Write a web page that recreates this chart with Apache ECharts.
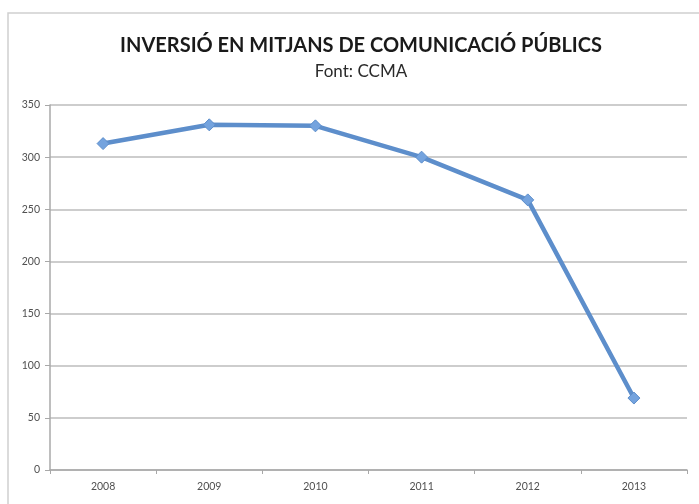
<!DOCTYPE html>
<html>
<head>
<meta charset="utf-8">
<script src="https://cdn.jsdelivr.net/npm/echarts@6/dist/echarts.min.js"></script>
<style>
html,body{margin:0;padding:0;background:#fff;}
#chart{width:699px;height:504px;}
</style>
</head>
<body>
<div id="chart"></div>
<script>
const titleText = "INVERSIÓ EN MITJANS DE COMUNICACIÓ PÚBLICS";
const subtitleText = "Font: CCMA";
const years = ["2008", "2009", "2010", "2011", "2012", "2013"];
const investment = [313, 331, 330, 300, 259, 69];
const yTicks = { min: 0, max: 350, interval: 50 };

const chart = echarts.init(document.getElementById('chart'), null, { renderer: 'canvas' });
const font = "Lato, 'Open Sans', sans-serif";
chart.setOption({
  animation: false,
  backgroundColor: '#ffffff',
  graphic: [{
    type: 'rect',
    shape: { x: 8, y: 13, width: 720, height: 520 },
    style: { fill: 'none', stroke: '#d0d0d0', lineWidth: 1.5 },
    silent: true
  }],
  title: {
    text: titleText,
    subtext: subtitleText,
    left: 356,
    textAlign: 'center',
    top: 31,
    itemGap: 7,
    textStyle: { fontFamily: font, fontWeight: 'bold', fontSize: 20, color: '#1a1a1a' },
    subtextStyle: { fontFamily: font, fontSize: 17, color: '#2a2a2a' }
  },
  grid: { left: 50, right: 12, top: 105, bottom: 34, containLabel: false },
  xAxis: {
    type: 'category',
    data: years,
    boundaryGap: true,
    axisLine: { lineStyle: { color: '#a8a8a8', width: 1.5 } },
    axisTick: { show: true, alignWithLabel: false, length: 4, lineStyle: { color: '#a8a8a8' } },
    axisLabel: { fontFamily: font, fontSize: 10.5, color: '#505050', margin: 11 },
    splitLine: { show: false }
  },
  yAxis: {
    type: 'value',
    min: yTicks.min, max: yTicks.max, interval: yTicks.interval,
    axisLine: { show: true, lineStyle: { color: '#a8a8a8', width: 1.5 } },
    axisTick: { show: true, length: 5, lineStyle: { color: '#a8a8a8' } },
    axisLabel: { fontFamily: font, fontSize: 10.5, color: '#505050', margin: 10 },
    splitLine: { show: true, lineStyle: { color: '#bdbdbd', width: 1.5 } }
  },
  series: [{
    type: 'line',
    data: investment,
    symbol: 'diamond',
    symbolSize: 12,
    lineStyle: { color: '#5d8ecb', width: 4.5 },
    itemStyle: { color: '#74a3de', borderColor: '#5d8ecb', borderWidth: 1 }
  }]
});
</script>
</body>
</html>
